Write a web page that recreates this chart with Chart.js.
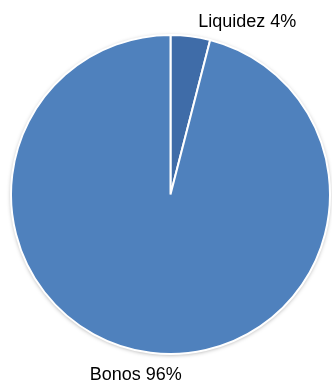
<!DOCTYPE html>
<html>
<head>
  <meta charset="UTF-8">
  <title>Liquidez / Bonos</title>
  <script src="https://cdn.jsdelivr.net/npm/chart.js@4.4.1/dist/chart.umd.min.js"></script>
  <style>
    html, body { margin: 0; padding: 0; background: #fff; }
  </style>
</head>
<body>
<canvas id="myChart" width="332" height="382"></canvas>
<script>
const categories = ['Liquidez', 'Bonos'];
const values = [4, 96];
const sliceColors = ['#3f6ca8', '#4f81bd'];

// draws a soft shadow under the whole pie
const pieShadow = {
  id: 'pieShadow',
  beforeDatasetsDraw(chart) {
    const arc = chart.getDatasetMeta(0).data[0];
    if (!arc) return;
    const ctx = chart.ctx;
    ctx.save();
    ctx.shadowColor = 'rgba(0,0,0,0.35)';
    ctx.shadowBlur = 4;
    ctx.shadowOffsetY = 1;
    ctx.beginPath();
    ctx.arc(arc.x, arc.y, arc.outerRadius, 0, Math.PI * 2);
    ctx.fillStyle = '#4f81bd';
    ctx.fill();
    ctx.restore();
  }
};

// outside labels "Name NN%"
const outLabels = {
  id: 'outLabels',
  afterDatasetsDraw(chart) {
    const ctx = chart.ctx;
    const meta = chart.getDatasetMeta(0);
    ctx.save();
    ctx.font = '18px "Liberation Sans", Arial, sans-serif';
    ctx.fillStyle = '#000';
    ctx.textBaseline = 'middle';
    meta.data.forEach((arc, i) => {
      const mid = (arc.startAngle + arc.endAngle) / 2;
      const r = arc.outerRadius;
      const text = categories[i] + ' ' + values[i] + '%';
      let x, y;
      if (i === 0) {
        x = arc.x + Math.cos(mid) * (r + 14) + 6;
        y = arc.y + Math.sin(mid) * (r + 14);
        ctx.textAlign = 'left';
      } else {
        x = arc.x + Math.cos(mid) * (r + 22) - 12;
        y = arc.y + Math.sin(mid) * (r + 22);
        ctx.textAlign = 'center';
      }
      ctx.fillText(text, x, y);
    });
    ctx.restore();
  }
};

const ctx = document.getElementById('myChart').getContext('2d');
const myChart = new Chart(ctx, {
  type: 'pie',
  data: {
    labels: categories,
    datasets: [{
      data: values,
      backgroundColor: sliceColors,
      borderColor: '#ffffff',
      borderWidth: 2
    }]
  },
  options: {
    responsive: false,
    animation: false,
    layout: {
      padding: { left: 10, right: 1, top: 34, bottom: 27 }
    },
    plugins: {
      legend: { display: false },
      tooltip: { enabled: false }
    }
  },
  plugins: [pieShadow, outLabels]
});
</script>
</body>
</html>
